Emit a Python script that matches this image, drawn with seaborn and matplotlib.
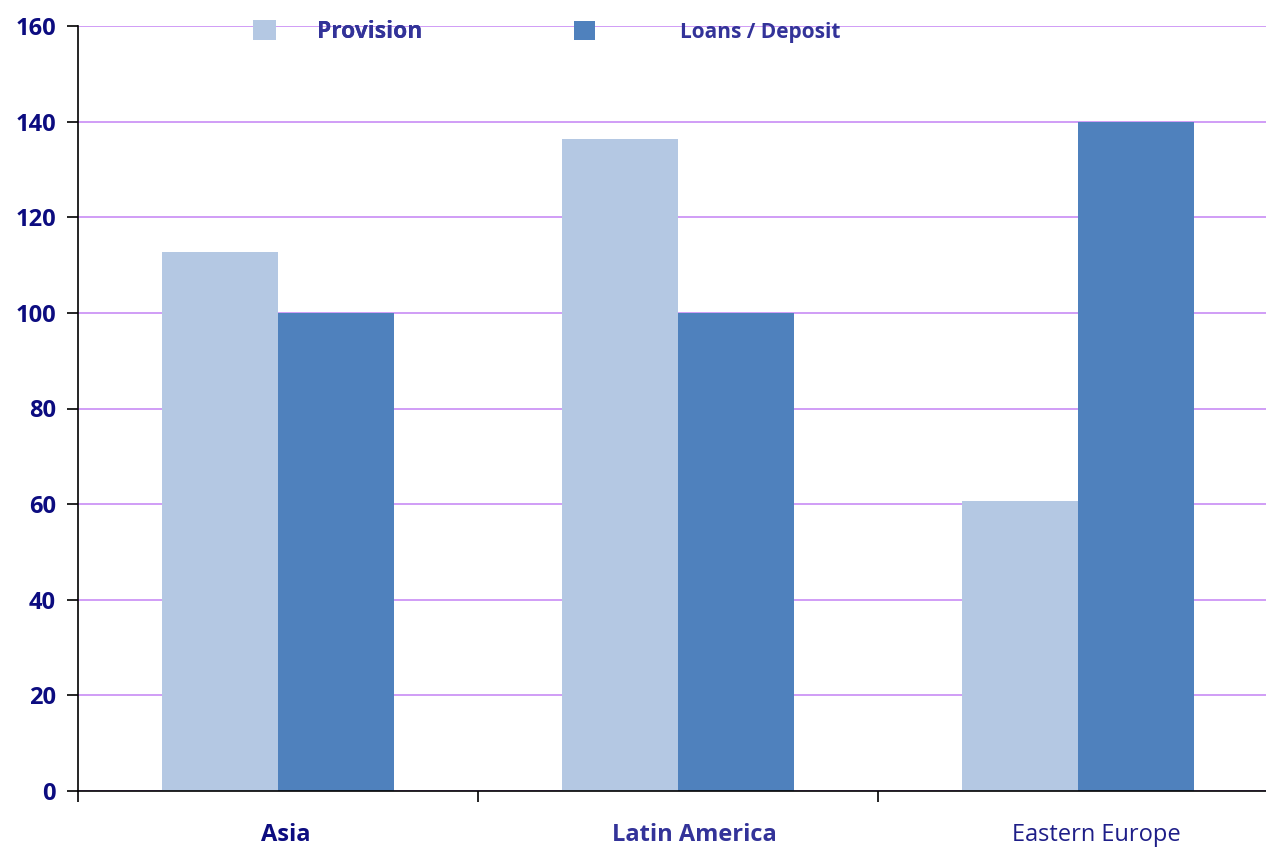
import matplotlib
matplotlib.use("Agg")
import matplotlib.pyplot as plt
import matplotlib.patches as mpatches
import seaborn as sns
import pandas as pd

# Chart data
regions = ["Asia", "Latin America", "Eastern Europe"]
provision = [112.8, 136.4, 60.7]
loans_deposit = [100, 100, 140]
series_names = ["Provision", "Loans / Deposit"]
y_ticks = [0, 20, 40, 60, 80, 100, 120, 140, 160]

df = pd.DataFrame({
    "Region": regions * 2,
    "Series": [series_names[0]] * 3 + [series_names[1]] * 3,
    "Value": provision + loans_deposit,
})

sns.set_style("white")
plt.rcParams["font.family"] = ["Open Sans", "DejaVu Sans"]

light_blue = "#b4c8e3"
mid_blue = "#4f81bd"
navy = "#0c0c80"
slate = "#333399"
grid_col = "#c88cf5"

fig = plt.figure(figsize=(12.66, 8.49), dpi=100)
ax = fig.add_axes([78 / 1266, 1 - 791 / 849, 1 - 78 / 1266, (791 - 26) / 849])

sns.barplot(data=df, x="Region", y="Value", hue="Series", order=regions,
            hue_order=series_names, palette=[light_blue, mid_blue],
            width=0.58, saturation=1, linewidth=0, ax=ax, legend=False)

ax.set_ylim(0, 160)
ax.set_xlim(-0.5, 2.47)
ax.set_yticks(y_ticks)
ax.set_yticklabels([str(t) for t in y_ticks], fontsize=17, fontweight="bold",
                   color=navy)
ax.yaxis.grid(True, color=grid_col, linewidth=1.2)
ax.set_axisbelow(True)

# Category boundary ticks on the x axis, labels placed separately
ax.set_xticks([-0.5, 0.5, 1.5])
ax.set_xticklabels([])
ax.tick_params(axis="x", bottom=True, direction="out", length=8, width=1.2,
               color="black")
ax.tick_params(axis="y", left=True, direction="out", length=8, width=1.2,
               color="black", pad=8)
ax.set_xlabel("")
ax.set_ylabel("")

label_styles = [
    dict(color=navy, fontweight="bold", dx=0.02),
    dict(color=slate, fontweight="bold", dx=0.04),
    dict(color="#1e1e88", fontweight="normal", dx=0.045),
]
for i, (name, st) in enumerate(zip(regions, label_styles)):
    ax.text(i + st["dx"], -9.2, name, ha="center", va="center", fontsize=17,
            fontweight=st["fontweight"], color=st["color"], clip_on=False)

for side in ["top", "right"]:
    ax.spines[side].set_visible(False)
for side in ["left", "bottom"]:
    ax.spines[side].set_color("black")
    ax.spines[side].set_linewidth(1.2)

# Legend entries at the top of the plot
h1 = mpatches.Patch(color=light_blue, linewidth=0)
h2 = mpatches.Patch(color=mid_blue, linewidth=0)
leg1 = fig.legend([h1], [series_names[0]], loc="center left",
                  bbox_to_anchor=(232 / 1266, 1 - 32 / 849), frameon=False,
                  handlelength=1.0, handleheight=1.0, handletextpad=1.8,
                  prop=dict(size=16.5, weight="bold"), labelcolor=slate)
leg2 = fig.legend([h2], [series_names[1]], loc="center left",
                  bbox_to_anchor=(555 / 1266, 1 - 32 / 849), frameon=False,
                  handlelength=1.0, handleheight=1.0, handletextpad=4.1,
                  prop=dict(size=15, weight="bold"), labelcolor=slate)
fig.add_artist(leg1)

fig.savefig("out.png", dpi=100)
